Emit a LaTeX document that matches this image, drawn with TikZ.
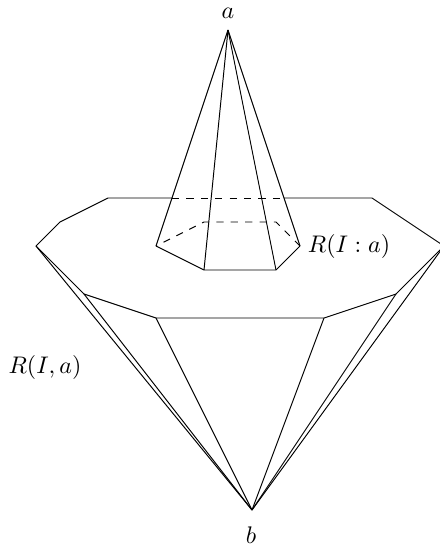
\documentclass[tikz,border=0pt]{standalone}
\usetikzlibrary{positioning,calc}
\tikzset{
  edge/.style={line width=0.4pt, line join=round},
  back/.style={edge, dashed},
  vlabel/.style={inner sep=0pt},
}

\begin{document}
\begin{tikzpicture}[x=0.41667pt, y=-0.41667pt]
  \useasboundingbox (0,0) rectangle (439,547);
  % apexes
  \coordinate (a) at (228,30);
  \coordinate (b) at (252,510);
  % small polygon
  \coordinate (s1) at (156,246);
  \coordinate (s2) at (204,270);
  \coordinate (s3) at (276,270);
  \coordinate (s4) at (300,246);
  \coordinate (s5) at (276,222);
  \coordinate (s6) at (204,222);
  % large polygon
  \coordinate (p1) at (36,246);
  \coordinate (p2) at (84,294);
  \coordinate (p3) at (156,318);
  \coordinate (p4) at (324,318);
  \coordinate (p5) at (396,294);
  \coordinate (p6) at (444,246);
  \coordinate (p7) at (372,198);
  \coordinate (p8) at (108,198);
  \coordinate (p9) at (60,222);
  % where the pyramid hides the far edge
  \coordinate (h1) at (172,198);
  \coordinate (h2) at (284,198);

  \draw[edge] (h1) -- (p8) -- (p9) -- (p1) -- (p2) -- (p3) -- (p4) -- (p5) -- (p6) -- (p7) -- (h2);
  \draw[back] (h1) -- (h2);

  \draw[edge] (s1) -- (s2) -- (s3) -- (s4);
  \draw[back] (s4) -- (s5) -- (s6) -- (s1);

  \foreach \v in {s1,s2,s3,s4}
    \draw[edge] (a) -- (\v);
  \foreach \v in {p1,p2,p3,p4,p5,p6}
    \draw[edge] (b) -- (\v);

  \node[vlabel] (la) at (228,13) {$a$};
  \node[vlabel] (lb) at (251,535) {$b$};
  \node[vlabel] (lq) at (349,246) {$R(I:a)$};
  \node[vlabel] (lr) at (45,367) {$R(I,a)$};
\end{tikzpicture}
\end{document}
